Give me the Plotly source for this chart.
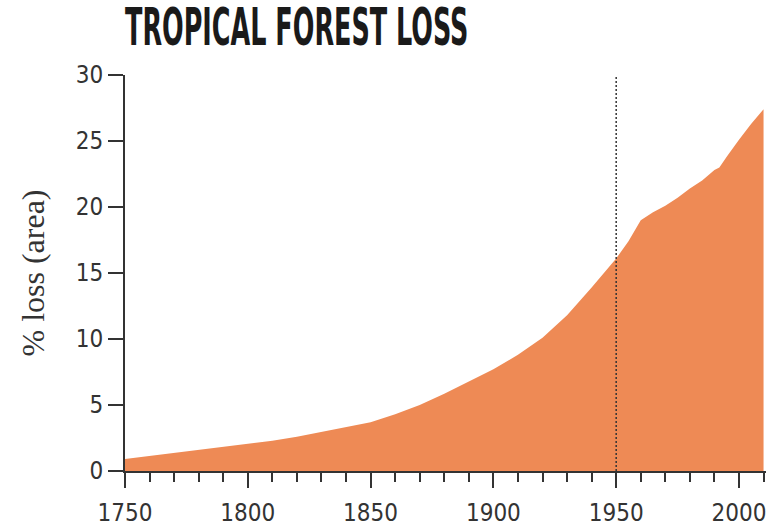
import plotly.graph_objects as go

years = [1750, 1760, 1770, 1780, 1790, 1800, 1810, 1820, 1830, 1840, 1850,
         1860, 1870, 1880, 1890, 1900, 1910, 1920, 1930, 1940, 1950, 1955,
         1960, 1965, 1970, 1975, 1980, 1985, 1990, 1992, 1995, 2000, 2005, 2010]
loss_pct = [0.9, 1.13, 1.35, 1.57, 1.8, 2.05, 2.3, 2.6, 2.95, 3.3, 3.7,
            4.3, 5.0, 5.85, 6.75, 7.7, 8.8, 10.1, 11.8, 13.9, 16.1, 17.4,
            19.0, 19.6, 20.1, 20.7, 21.4, 22.0, 22.8, 23.0, 23.8, 25.1, 26.3, 27.4]
x_ticks = [1750, 1800, 1850, 1900, 1950, 2000]
y_ticks = [0, 5, 10, 15, 20, 25, 30]
marker_year = 1950
title_text = "TROPICAL FOREST LOSS"
y_title = "% loss (area)"

fill_color = "#EE8A55"
axis_color = "#333333"
narrow = "DejaVu Sans Condensed, DejaVu Sans, sans-serif"

fig = go.Figure()
fig.add_trace(go.Scatter(
    x=years, y=loss_pct, mode="lines", fill="tozeroy",
    line=dict(color=fill_color, width=0), fillcolor=fill_color,
    hoverinfo="skip", showlegend=False,
))
fig.add_shape(type="line", xref="x", yref="y",
              x0=marker_year, x1=marker_year, y0=0, y1=30,
              line=dict(color="#333333", width=1.5, dash="2px,2px"))

fig.update_layout(
    width=766, height=528,
    margin=dict(l=125, r=0, t=75, b=57, autoexpand=False),
    paper_bgcolor="white", plot_bgcolor="white",
    title=dict(text="<b>" + title_text + "</b>", x=0, xref="paper",
               xanchor="left", y=0.983, yanchor="top", yref="container",
               font=dict(family=narrow, size=52, color="#1a1a1a")),
    xaxis=dict(range=[1750, 2011], tickvals=x_ticks, ticks="outside",
               ticklen=15, tickwidth=2, tickcolor=axis_color,
               showline=True, linecolor=axis_color, linewidth=2,
               showgrid=False, zeroline=False, automargin=False,
               ticklabelstandoff=4, ticklabeloverflow="allow",
               tickfont=dict(family=narrow, size=24, color="#333333"),
               minor=dict(dtick=10, tick0=1750, ticks="outside", ticklen=9,
                          tickwidth=2, tickcolor=axis_color, showgrid=False)),
    yaxis=dict(range=[0, 30], tickvals=y_ticks, ticks="outside",
               ticklen=15, tickwidth=2, tickcolor=axis_color,
               showline=True, linecolor=axis_color, linewidth=2,
               showgrid=False, zeroline=False, automargin=False,
               ticklabeloverflow="allow",
               tickfont=dict(family=narrow, size=24, color="#333333"),
               title=dict(text=y_title, standoff=22,
                          font=dict(family="Liberation Serif, Times New Roman, serif",
                                    size=32, color="#333333"))),
)

post = """
document.documentElement.style.margin = '0';
document.body.style.margin = '0';
document.body.style.padding = '0';
var gd = document.getElementById('{plot_id}');
function squeezeTitle(){
  var t = gd.querySelector('.gtitle');
  if(!t) return;
  var x = parseFloat(t.getAttribute('x')) || 0;
  t.setAttribute('transform', 'translate(' + x + ',0) scale(0.545,1) translate(' + (-x) + ',0)');
}
squeezeTitle();
gd.on('plotly_afterplot', squeezeTitle);
"""

fig.write_html("out.html", post_script=post, config={"displayModeBar": False})
